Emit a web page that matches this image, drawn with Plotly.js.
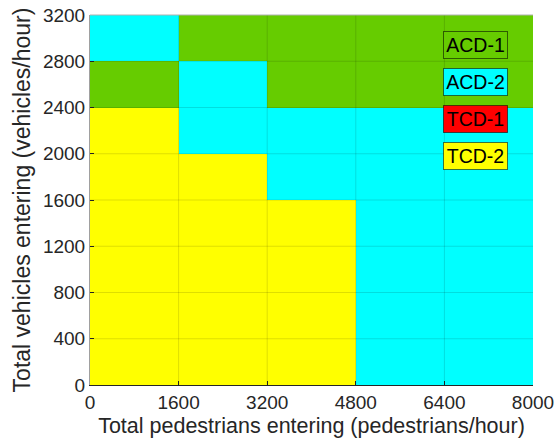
<!DOCTYPE html>
<html>
<head>
<meta charset="utf-8">
<script src="https://cdn.plot.ly/plotly-3.0.1.min.js"></script>
<style>html,body{margin:0;padding:0;background:#fff;}#chart{width:555px;height:445px;}</style>
</head>
<body>
<div id="chart"></div>
<script>
// Category names and colours
var categories = ['ACD-1', 'ACD-2', 'TCD-1', 'TCD-2'];
var categoryColors = ['#66cc00', '#00ffff', '#ff0000', '#ffff00'];

// Cell edges (pedestrians/hour and vehicles/hour)
var pedEdges = [0, 1600, 3200, 4800, 6400, 8000];
var vehEdges = [0, 400, 800, 1200, 1600, 2000, 2400, 2800, 3200];

// Category index (1..4) for each cell, rows from bottom (0-400) to top (2800-3200)
var row0_400     = [4, 4, 4, 2, 2];
var row400_800   = [4, 4, 4, 2, 2];
var row800_1200  = [4, 4, 4, 2, 2];
var row1200_1600 = [4, 4, 4, 2, 2];
var row1600_2000 = [4, 4, 2, 2, 2];
var row2000_2400 = [4, 2, 2, 2, 2];
var row2400_2800 = [1, 2, 1, 1, 1];
var row2800_3200 = [2, 1, 1, 1, 1];

// Tick values
var xTicks = [0, 1600, 3200, 4800, 6400, 8000];
var yTicks = [0, 400, 800, 1200, 1600, 2000, 2400, 2800, 3200];

var z = [row0_400, row400_800, row800_1200, row1200_1600, row1600_2000, row2000_2400, row2400_2800, row2800_3200];

var n = categories.length;
var colorscale = [];
for (var i = 0; i < n; i++) {
  colorscale.push([i / n, categoryColors[i]]);
  colorscale.push([(i + 1) / n, categoryColors[i]]);
}

var trace = {
  type: 'heatmap',
  x: pedEdges,
  y: vehEdges,
  z: z,
  zmin: 0.5,
  zmax: n + 0.5,
  colorscale: colorscale,
  showscale: false,
  zsmooth: false,
  hoverinfo: 'skip'
};

var fontFam = '"Liberation Sans", Arial, Helvetica, sans-serif';
var shapes = [];
xTicks.slice(1, -1).forEach(function (v) {
  shapes.push({type: 'line', xref: 'x', yref: 'paper', x0: v, x1: v, y0: 0, y1: 1,
    line: {color: 'rgba(0,0,0,0.13)', width: 1}, layer: 'above'});
});
yTicks.slice(1, -1).forEach(function (v) {
  shapes.push({type: 'line', xref: 'paper', yref: 'y', x0: 0, x1: 1, y0: v, y1: v,
    line: {color: 'rgba(0,0,0,0.13)', width: 1}, layer: 'above'});
});
shapes.push({type: 'line', xref: 'paper', yref: 'paper', x0: 0, x1: 1, y0: 1, y1: 1,
  line: {color: '#b0b0b0', width: 1}, layer: 'above'});

var annotations = categories.map(function (c, i) {
  return {
    xref: 'paper', yref: 'paper',
    x: 0.87, y: 0.919 - i * 0.1,
    xanchor: 'center', yanchor: 'middle',
    text: c, showarrow: false,
    font: {family: fontFam, size: 19.5, color: '#000'},
    bgcolor: categoryColors[i],
    bordercolor: 'rgba(0,0,0,0.55)', borderwidth: 1, borderpad: 0,
    width: 63, height: 26
  };
});

var layout = {
  width: 555, height: 445,
  margin: {l: 90, r: 22, t: 15, b: 60},
  paper_bgcolor: '#ffffff',
  plot_bgcolor: '#ffffff',
  font: {family: fontFam, color: '#262626'},
  xaxis: {
    range: [0, 8000], tickvals: xTicks, ticktext: xTicks.map(String),
    ticks: 'inside', ticklen: 4, tickcolor: '#262626',
    showline: true, linecolor: '#262626', linewidth: 1,
    showgrid: false, zeroline: false, layer: 'above traces',
    tickfont: {size: 19, color: '#262626'},
    title: {text: 'Total pedestrians entering (pedestrians/hour)', font: {size: 21.5, color: '#262626'}, standoff: 6},
    automargin: false
  },
  yaxis: {
    range: [0, 3200], tickvals: yTicks, ticktext: yTicks.map(String),
    ticks: 'inside', ticklen: 4, tickcolor: '#262626',
    showline: true, linecolor: '#a0a0a0', linewidth: 1,
    showgrid: false, zeroline: false, layer: 'above traces',
    tickfont: {size: 19, color: '#262626'},
    title: {text: 'Total vehicles entering (vehicles/hour)', font: {size: 23, color: '#262626'}, standoff: 5},
    automargin: false
  },
  shapes: shapes,
  annotations: annotations,
  showlegend: false
};

Plotly.newPlot('chart', [trace], layout, {displayModeBar: false, staticPlot: true});
</script>
</body>
</html>
